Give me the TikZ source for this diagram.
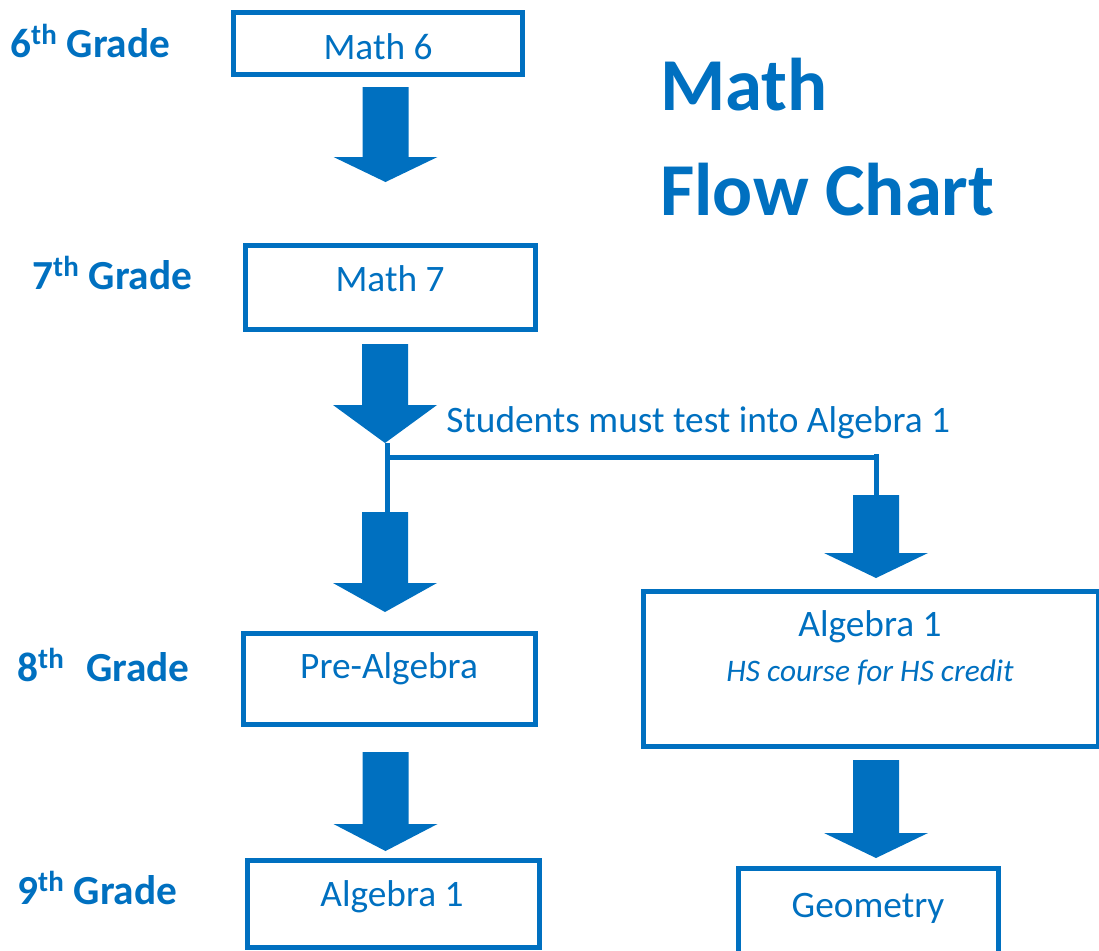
\documentclass[tikz,border=0pt]{standalone}
\usepackage{fontspec}
\setmainfont{Carlito}
\definecolor{mblue}{HTML}{0070C0}
\begin{document}
\begin{tikzpicture}[x=0.75pt,y=-0.75pt,
  box/.style={draw=mblue,line width=3.75pt,rectangle,inner sep=0pt},
  txt/.style={text=mblue,inner sep=0pt,anchor=base,font=\fontsize{28}{30}\selectfont},
  grade/.style={text=mblue,inner sep=0pt,anchor=base west,font=\fontsize{31}{34}\selectfont\bfseries},
  title/.style={text=mblue,inner sep=0pt,anchor=base west,font=\fontsize{56}{60}\selectfont\bfseries},
  barfill/.style={fill=mblue},
  link/.style={draw=mblue,line width=3.75pt}]
\useasboundingbox (0,0) rectangle (1099,950);
\clip (0,0) rectangle (1099,950);
\newcommand\blockarrow[4]{% x, top, headstart, tip
  \fill[barfill] (#1-23,#2) -- (#1+23,#2) -- (#1+23,#3) -- (#1+52,#3) -- (#1,#4) -- (#1-52,#3) -- (#1-23,#3) -- cycle;}
% grade labels
\node[grade] (g6) at (10,57) {6\textsuperscript{th} Grade};
\node[grade] (g7) at (32,289) {7\textsuperscript{th} Grade};
\node[grade] (g8) at (17,681) {8\textsuperscript{th}\hspace{0.3em} Grade};
\node[grade] (g9) at (17,904) {9\textsuperscript{th} Grade};
% title
\node[title] (t1) at (660,110) {Math};
\node[title] (t2) at (660,215) {Flow Chart};
% boxes
\node[box,minimum width=289*0.75pt,minimum height=62*0.75pt] (m6) at (378,43.5) {};
\node[box,minimum width=290*0.75pt,minimum height=84*0.75pt] (m7) at (390.5,287.5) {};
\node[box,minimum width=292*0.75pt,minimum height=91*0.75pt] (pa) at (389.5,679) {};
\node[box,minimum width=455*0.75pt,minimum height=155*0.75pt] (a1hs) at (871,669) {};
\node[box,minimum width=292*0.75pt,minimum height=87*0.75pt] (a19) at (393.5,904) {};
\node[box,minimum width=260*0.75pt,minimum height=104*0.75pt] (geo) at (868.5,920) {};
% box texts
\node[txt] (m6t) at (378,59) {Math 6};
\node[txt] (m7t) at (390,291) {Math 7};
\node[txt] (pat) at (389,678) {Pre-Algebra};
\node[txt] (a1t) at (870,636) {Algebra 1};
\node[txt,font=\fontsize{23.5}{26}\selectfont\itshape] (hst) at (870,681) {HS course for HS credit};
\node[txt] (a19t) at (392,906) {Algebra 1};
\node[txt] (geot) at (868,917) {Geometry};
\node[txt,anchor=base west] (note) at (446,432) {Students must test into Algebra 1};
% block arrows
\blockarrow{385.5}{87}{157}{182}
\blockarrow{385}{344}{405}{443}
\blockarrow{385}{512}{583}{612}
\blockarrow{876}{495}{553}{578}
\blockarrow{385.5}{752}{824}{851}
\blockarrow{876}{760}{833}{858}
% branch
\coordinate (split) at (387,443);
\coordinate (splitlow) at (387,514);
\coordinate (elbow) at (387,457);
\coordinate (rcorner) at (876,457);
\coordinate (rend) at (876,497);
\draw[link] (split) -- (splitlow);
\draw[link] (elbow) -- (rcorner);
\draw[link] ([yshift=1.9pt]rcorner) -- (rend);
\end{tikzpicture}
\end{document}
